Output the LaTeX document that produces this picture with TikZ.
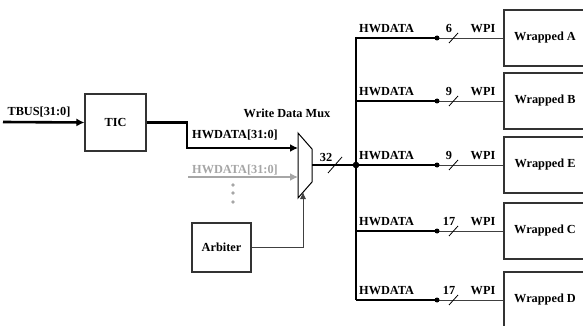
\documentclass[tikz,border=0pt]{standalone}
\usepackage{fontspec}
\setmainfont{Liberation Serif}
\usetikzlibrary{arrows.meta}

\begin{document}
\begin{tikzpicture}[x=1pt, y=-1pt,
  font=\fontsize{12.3}{14}\selectfont\bfseries,
  blk/.style={draw=black!80, line width=1.1pt},
  bus/.style={line width=2.6pt},
  wire/.style={line width=0.9pt, draw=black!75},
  lbl/.style={inner sep=0pt}]

\useasboundingbox (0,0) rectangle (583,326);
\clip (0,0) rectangle (583,326);

% blocks
\node[blk, minimum width=61pt, minimum height=57pt] (tic) at (115.5,122.5) {TIC};
\node[blk, minimum width=59pt, minimum height=49pt] (arb) at (221.5,247.5) {Arbiter};

\coordinate (tbus) at (3,122);
\draw[bus, -{Latex[length=8pt,width=8pt]}] (tbus) -- (tic.west);
\node[lbl] (tbuslbl) at (39,112) {TBUS[31:0]};

% mux
\coordinate (mtl) at (298,133);
\coordinate (mtr) at (312,149);
\coordinate (mbr) at (312,182);
\coordinate (mbl) at (298,198);
\draw[line width=1pt] (mtl) -- (mtr) -- (mbr) -- (mbl) -- cycle;
\node[lbl] (muxlbl) at (287,113) {Write Data Mux};

\draw[bus, -{Latex[length=8pt,width=8pt]}] (tic.east) -| (187,148) -- (298,148);
\node[lbl, anchor=west] (hw1) at (192,135) {HWDATA[31:0]};

\coordinate (gin) at (188,177);
\draw[line width=2.2pt, gray!70, -{Latex[length=8pt,width=8pt]}] (gin) -- (298,177);
\node[lbl, anchor=west, text=gray!70] (hw2) at (192,170) {HWDATA[31:0]};

\foreach \yy in {185,193,202}
  \fill[gray!70] (233,\yy) circle (1.8pt);

\draw[wire, -{Latex[length=7pt,width=6pt]}] (arb.east) -| (303,192);

% mux output to bus
\coordinate (junc) at (356,165);
\draw[bus] (312,165) -- (junc);
\draw[line width=0.8pt] (328,173) -- (342,157);
\node[lbl] (w32) at (326,157) {32};
\fill (junc) circle (3.3pt);

\draw[bus] (356,37) -- (356,300);

% branches to the wrapped blocks
\foreach \name/\yy/\w in {A/38/6, B/101/9, E/165/9, C/231/17, D/300/17} {
  \node[blk, minimum width=82pt, minimum height=56pt] (wrap\name) at (545,\yy) {Wrapped \name};
  \coordinate (dot\name) at (437,\yy);
  \draw[bus] (356,\yy) -- (dot\name);
  \draw[wire] (dot\name) -- (wrap\name.west);
  \fill (dot\name) circle (2.5pt);
  \draw[line width=0.8pt] (449,\yy+5) -- (458,\yy-5);
  \node[lbl, anchor=south west] (hd\name) at (359,\yy-5) {HWDATA};
  \node[lbl, anchor=south] (n\name) at (449,\yy-5) {\w};
  \node[lbl, anchor=south] (wpi\name) at (483,\yy-5) {WPI};
}

\end{tikzpicture}
\end{document}
